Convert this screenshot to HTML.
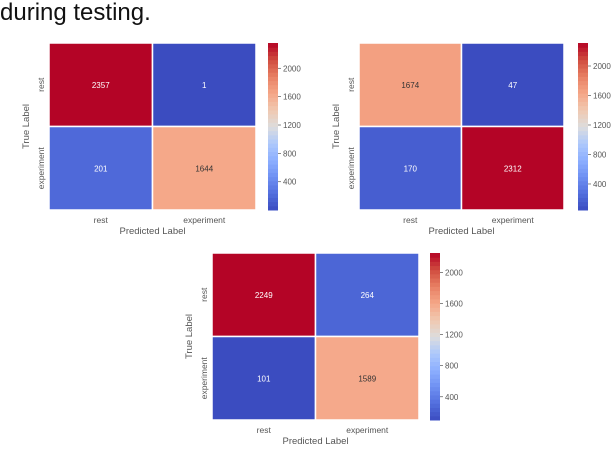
<!DOCTYPE html>
<html><head><meta charset="utf-8">
<style>
html,body{margin:0;padding:0;background:#fff;}
body{width:616px;height:450px;overflow:hidden;position:relative;font-family:"Liberation Sans",sans-serif;}
#title{position:absolute;left:0;top:-1px;font-size:24px;color:#111;font-family:"Liberation Sans",sans-serif;}
svg{position:absolute;left:0;top:0;}
</style></head>
<body>
<div id="title">during testing.</div>
<svg id="chart" width="616" height="450"></svg>
<script>
const categories = ["rest", "experiment"];
const matrixA = [[2357, 1], [201, 1644]];
const matrixB = [[1674, 47], [170, 2312]];
const matrixC = [[2249, 264], [101, 1589]];
const colorbarTicks = [400, 800, 1200, 1600, 2000];

const stops=[[0,[59,76,192]],[0.1,[82,110,221]],[0.2,[110,144,242]],[0.3,[141,175,254]],[0.4,[173,200,252]],[0.5,[221,221,221]],[0.6,[240,200,176]],[0.7,[245,167,136]],[0.8,[232,128,100]],[0.9,[208,76,63]],[1,[180,4,38]]];
function cmap(t){t=Math.max(0,Math.min(1,t));for(let i=1;i<stops.length;i++){if(t<=stops[i][0]){const a=stops[i-1],b=stops[i];const f=(t-a[0])/(b[0]-a[0]);const c=a[1].map((v,k)=>Math.round(v+(b[1][k]-v)*f));return `rgb(${c})`;}}return 'rgb(180,4,38)';}
const NS="http://www.w3.org/2000/svg";
const svg=document.getElementById('chart');
function mk(tag,attrs,parent){const e=document.createElementNS(NS,tag);for(const k in attrs)e.setAttribute(k,attrs[k]);(parent||svg).appendChild(e);return e;}

function draw(m,box,id){
  const g=mk('g',{});
  
  
  const vals=m.flat();const vmin=Math.min(...vals),vmax=Math.max(...vals);
  const w=(box.r-box.l)/2,h=(box.b-box.t)/2;
  const xs=i=>box.l+i*w, ys=j=>box.t+j*h;
  m.forEach((row,j)=>row.forEach((v,i)=>{
    const t=(v-vmin)/(vmax-vmin);
    const r=mk('rect',{x:xs(i),y:ys(j),width:w,height:h,fill:cmap(t),stroke:'#fff','stroke-width':1.5},g);
    
    
    const tx=mk('text',{x:xs(i)+w/2,y:ys(j)+h/2+3,'text-anchor':'middle','font-size':8,fill:(t>0.3&&t<0.8)?'#333':'#fff'},g);
    tx.textContent=v;
    
    
  }));
  categories.forEach((c,i)=>{
    const t=mk('text',{x:xs(i)+w/2,y:box.b+13,'text-anchor':'middle','font-size':8.5,fill:'#555'},g);t.textContent=c;
    
    
    const cy=ys(i)+h/2;
    const t2=mk('text',{x:box.l-5,y:cy,'text-anchor':'middle','font-size':8.5,fill:'#555',transform:`rotate(-90 ${box.l-5} ${cy})`},g);t2.textContent=c;
    
    
  });
  const xl=mk('text',{x:(box.l+box.r)/2,y:box.b+24,'text-anchor':'middle','font-size':9.5,fill:'#555'},g);xl.textContent='Predicted Label';
  
  
  const yc=(box.t+box.b)/2,yx=box.l-20;
  const yl=mk('text',{x:yx,y:yc,'text-anchor':'middle','font-size':9.5,fill:'#555',transform:`rotate(-90 ${yx} ${yc})`},g);yl.textContent='True Label';
  
  
  const n=40,ch=(box.b-box.t)/n;
  for(let k=0;k<n;k++){
    const r=mk('rect',{x:box.cb,y:box.b-(k+1)*ch,width:10,height:ch+0.5,fill:cmap((k+0.5)/n)},g);
    
    
  }
  const cy=v=>box.b-(v-vmin)/(vmax-vmin)*(box.b-box.t);
  colorbarTicks.forEach(v=>{
    if(v<vmin||v>vmax)return;
    mk('line',{x1:box.cb+10,x2:box.cb+13,y1:cy(v),y2:cy(v),stroke:'#555','stroke-width':0.7},g);
    const t=mk('text',{x:box.cb+15,y:cy(v)+3,'font-size':8,fill:'#555'},g);t.textContent=v;
    
    
  });
}
draw(matrixA,{l:49,r:256,t:43,b:210,cb:268},'a');
draw(matrixB,{l:359,r:564,t:43,b:210,cb:578},'b');
draw(matrixC,{l:212,r:419,t:253,b:420,cb:430},'c');
</script>
</body></html>
